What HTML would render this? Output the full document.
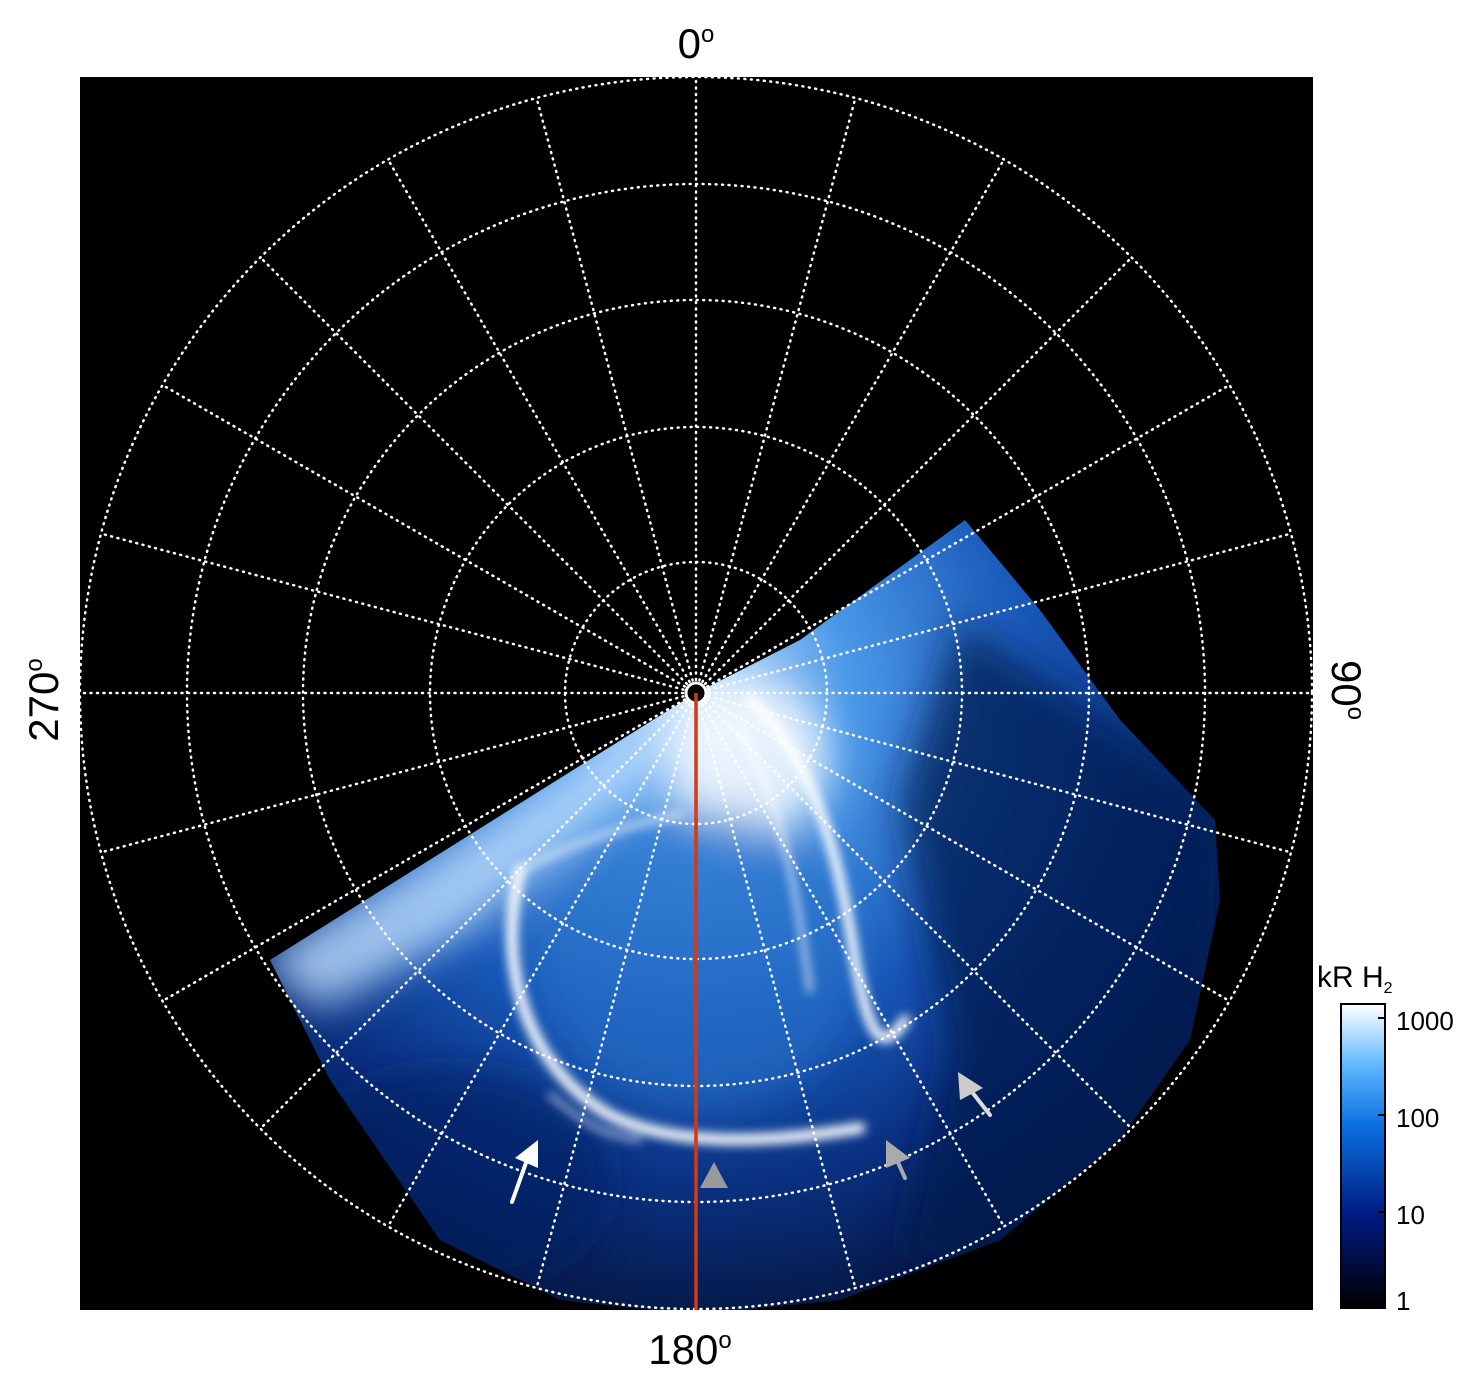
<!DOCTYPE html>
<html><head><meta charset="utf-8"><style>
html,body{margin:0;padding:0;background:#fff;}
svg{display:block;font-family:"Liberation Sans",sans-serif;}
</style></head><body>
<svg width="1481" height="1386" viewBox="0 0 1481 1386" xmlns="http://www.w3.org/2000/svg">
<defs>
<clipPath id="sq"><rect x="80" y="77" width="1233" height="1233"/></clipPath>
<clipPath id="wc"><path d="M696,693 L270,960 L330,1080 L440,1240 L560,1300 L696,1315 L840,1300 L1000,1240 L1120,1140 L1190,1040 L1220,900 L1215,820 L1120,720 L1040,610 L965,520 L800,640 Z"/></clipPath>
<radialGradient id="wedge" cx="696" cy="693" r="620" gradientUnits="userSpaceOnUse">
<stop offset="0" stop-color="#cfe6ff"/>
<stop offset="0.25" stop-color="#4a98e8"/>
<stop offset="0.55" stop-color="#1858b8"/>
<stop offset="0.8" stop-color="#0a3080"/>
<stop offset="1" stop-color="#061a4a"/>
</radialGradient>
<linearGradient id="cb" x1="0" y1="1" x2="0" y2="0">
<stop offset="0" stop-color="#000"/>
<stop offset="0.3" stop-color="#001a80"/>
<stop offset="0.6" stop-color="#0a70e0"/>
<stop offset="0.8" stop-color="#60b8ff"/>
<stop offset="1" stop-color="#ffffff"/>
</linearGradient>
<filter id="blur"><feGaussianBlur stdDeviation="5"/></filter>
<filter id="blur2"><feGaussianBlur stdDeviation="20"/></filter>
</defs>
<rect x="80" y="77" width="1233" height="1233" fill="#000"/>
<g clip-path="url(#sq)">
<g clip-path="url(#wc)">
<rect x="80" y="400" width="1233" height="910" fill="url(#wedge)"/>
<g filter="url(#blur2)">
<path d="M960,620 L1230,800 L1220,1100 L1000,1300 L900,1250 L950,1050 L900,800 Z" fill="#041a50" opacity="0.75"/>
<path d="M696,693 L260,960 L320,1010 L470,930 L620,800 Z" fill="#c0e0ff" opacity="0.8"/>
<ellipse cx="750" cy="760" rx="80" ry="80" fill="#ffffff" opacity="0.8"/>
<ellipse cx="700" cy="960" rx="160" ry="150" fill="#2470c8" opacity="0.6"/>
<ellipse cx="450" cy="1180" rx="160" ry="110" fill="#062060" opacity="0.6"/>
</g>
</g>
<g filter="url(#blur)" fill="none" stroke="#ffffff" stroke-linecap="round">
<path d="M520,870 C495,970 530,1070 610,1115 C670,1145 760,1145 860,1128" stroke-width="11"/>
<path d="M750,700 C815,760 840,860 855,960 C868,1030 880,1060 905,1020" stroke-width="10"/>
<path d="M740,730 C780,800 795,880 810,990" stroke-width="6" opacity="0.7"/>
<path d="M520,870 C560,850 620,825 680,815" stroke-width="7" opacity="0.6"/>
<path d="M550,1095 C580,1120 600,1135 640,1140" stroke-width="5" opacity="0.7"/>
</g>
<g fill="none" stroke="#fff" stroke-width="2.5" stroke-dasharray="1 5.5" stroke-linecap="round">
<circle cx="696" cy="693" r="616"/>
<circle cx="696" cy="693" r="509"/>
<circle cx="696" cy="693" r="393"/>
<circle cx="696" cy="693" r="266"/>
<circle cx="696" cy="693" r="131"/>
<g id="sp">
<line x1="696" y1="693" x2="696" y2="77"/>
<line x1="696" y1="693" x2="855.4" y2="98"/>
<line x1="696" y1="693" x2="1004" y2="159.5"/>
<line x1="696" y1="693" x2="1131.6" y2="257.4"/>
<line x1="696" y1="693" x2="1229.5" y2="385"/>
<line x1="696" y1="693" x2="1291" y2="533.6"/>
<line x1="696" y1="693" x2="1312" y2="693"/>
<line x1="696" y1="693" x2="1291" y2="852.4"/>
<line x1="696" y1="693" x2="1229.5" y2="1001"/>
<line x1="696" y1="693" x2="1131.6" y2="1128.6"/>
<line x1="696" y1="693" x2="1004" y2="1226.5"/>
<line x1="696" y1="693" x2="855.4" y2="1288"/>
</g>
<use href="#sp" transform="rotate(180 696 693)"/>
</g>
<circle cx="696" cy="693" r="11" fill="#000"/>
<circle cx="696" cy="693" r="10" fill="none" stroke="#fff" stroke-width="3"/>
<line x1="696" y1="693" x2="696" y2="1312" stroke="#d8380f" stroke-width="3.5"/>
<g stroke-width="4" stroke-linecap="round">
<line x1="512" y1="1202" x2="527" y2="1160" stroke="#fff"/>
<polygon points="538,1140 515,1158 538,1168" fill="#fff"/>
<polygon points="714,1162 700,1188 728,1188" fill="#999"/>
<line x1="905" y1="1178" x2="896" y2="1158" stroke="#aaa"/>
<polygon points="886,1140 886,1168 910,1158" fill="#aaa"/>
<line x1="990" y1="1115" x2="972" y2="1092" stroke="#ddd"/>
<polygon points="958,1072 960,1100 983,1088" fill="#ccc"/>
</g>
</g>
<g fill="#000">
<text x="696" y="58" font-size="42" text-anchor="middle">0<tspan font-size="24" dy="-16">o</tspan></text>
<text x="690" y="1364" font-size="42" text-anchor="middle">180<tspan font-size="24" dy="-16">o</tspan></text>
<text transform="translate(58,700) rotate(-90)" font-size="42" text-anchor="middle">270<tspan font-size="24" dy="-16">o</tspan></text>
<text transform="translate(1332,690) rotate(90)" font-size="42" text-anchor="middle">90<tspan font-size="24" dy="-16">o</tspan></text>
<text x="1317" y="987" font-size="30">kR H<tspan font-size="16" dy="6">2</tspan></text>
<text x="1396" y="1030" font-size="26">1000</text>
<text x="1396" y="1127" font-size="26">100</text>
<text x="1396" y="1224" font-size="26">10</text>
<text x="1396" y="1310" font-size="26">1</text>
</g>
<rect x="1341" y="1004" width="44" height="304" fill="url(#cb)" stroke="#000" stroke-width="2"/>
<g stroke="#000" stroke-width="2">
<line x1="1378" y1="1018" x2="1385" y2="1018"/>
<line x1="1378" y1="1115" x2="1385" y2="1115"/>
<line x1="1378" y1="1212" x2="1385" y2="1212"/>
</g>
</svg>
</body></html>
